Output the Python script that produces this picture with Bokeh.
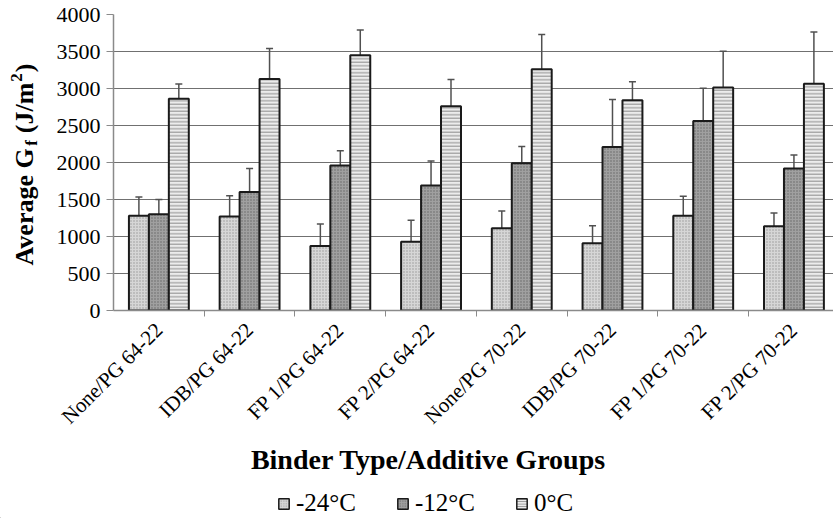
from math import pi
from bokeh.plotting import figure
from bokeh.layouts import row, column
from bokeh.models import (Range1d, FixedTicker, ColumnDataSource, Whisker, Legend,
                          LegendItem, Label, TeeHead)
from bokeh.embed import file_html
from bokeh.resources import INLINE

groups = ["None/PG 64-22", "IDB/PG 64-22", "FP 1/PG 64-22", "FP 2/PG 64-22",
          "None/PG 70-22", "IDB/PG 70-22", "FP 1/PG 70-22", "FP 2/PG 70-22"]
series_names = ["-24°C", "-12°C", "0°C"]
mean_m24 = [1280, 1270, 870, 930, 1110, 910, 1280, 1140]
err_m24 = [255, 280, 300, 290, 235, 235, 265, 178]
mean_m12 = [1300, 1600, 1960, 1690, 1990, 2210, 2560, 1920]
err_m12 = [200, 320, 200, 330, 225, 640, 445, 182]
mean_0 = [2860, 3130, 3450, 2760, 3260, 2840, 3015, 3065]
err_0 = [200, 410, 340, 360, 470, 250, 490, 700]
y_ticks = [0, 500, 1000, 1500, 2000, 2500, 3000, 3500, 4000]
x_title = "Binder Type/Additive Groups"

SERIF = "Liberation Serif"
LEFT_W = 45
TOP_H = 440
FRAME_TOP, FRAME_BOTTOM = 14, 310

# ---------------- main chart ----------------
p = figure(width=833 - LEFT_W, height=TOP_H, output_backend="svg", toolbar_location=None,
           x_range=Range1d(0, 7.936), y_range=Range1d(0, 4000),
           min_border_left=113 - LEFT_W, min_border_right=0, min_border_top=FRAME_TOP,
           min_border_bottom=TOP_H - FRAME_BOTTOM, background_fill_color="white",
           border_fill_color="white")
p.outline_line_color = None
p.xgrid.grid_line_color = None
p.ygrid.grid_line_color = "#707070"
p.ygrid.grid_line_width = 1.2
p.ygrid.ticker = FixedTicker(ticks=y_ticks)

p.yaxis.ticker = FixedTicker(ticks=y_ticks)
p.yaxis.axis_line_color = "#8a8a8a"
p.yaxis.axis_line_width = 1.5
p.yaxis.major_tick_line_color = "#8a8a8a"
p.yaxis.major_tick_out = 7
p.yaxis.major_tick_in = 0
p.yaxis.minor_tick_line_color = None
p.yaxis.major_label_standoff = 6
p.yaxis.major_label_text_font = SERIF
p.yaxis.major_label_text_font_size = "22px"
p.yaxis.major_label_text_color = "black"

centers = [i + 0.5 for i in range(len(groups))]
bounds = [i for i in range(1, len(groups))]
p.xaxis.ticker = FixedTicker(ticks=centers, minor_ticks=bounds)
p.xaxis.major_label_overrides = {c: g for c, g in zip(centers, groups)}
p.xaxis.major_label_orientation = pi / 4
p.xaxis.major_tick_line_color = None
p.xaxis.minor_tick_line_color = "#8a8a8a"
p.xaxis.minor_tick_out = 6
p.xaxis.minor_tick_in = 0
p.xaxis.axis_line_color = "#8a8a8a"
p.xaxis.axis_line_width = 1.5
p.xaxis.major_label_standoff = 10
p.xaxis.major_label_text_font = SERIF
p.xaxis.major_label_text_font_size = "21px"
p.xaxis.major_label_text_color = "black"

offsets = [-0.22, 0.0, 0.22]
means = [mean_m24, mean_m12, mean_0]
errs = [err_m24, err_m12, err_0]
fills = ["#d6d6d6", "#a0a0a0", "#ececec"]
hatches = ["dot", "dot", "horizontal_line"]
hatch_colors = ["#999999", "#666666", "#8c8c8c"]
hatch_scales = [3, 3, 3.5]

for k in range(3):
    xs = [c + offsets[k] for c in centers]
    src = ColumnDataSource(dict(
        x=xs, top=means[k],
        upper=[m + e for m, e in zip(means[k], errs[k])],
        lower=[m - e for m, e in zip(means[k], errs[k])]))
    p.vbar(x="x", top="top", bottom=0, width=0.22, source=src,
           fill_color=fills[k], line_color="#1a1a1a", line_width=2,
           hatch_pattern=hatches[k], hatch_color=hatch_colors[k],
           hatch_scale=hatch_scales[k], hatch_weight=1)
    w = Whisker(source=src, base="x", upper="upper", lower="lower",
                line_color="#505050", line_width=1.5,
                upper_head=TeeHead(size=7, line_color="#505050", line_width=1.5),
                lower_head=TeeHead(size=7, line_color="#505050", line_width=1.5))
    p.add_layout(w)

# ---------------- y-axis title strip (frame aligned with main frame) ----------------
yfig = figure(width=LEFT_W, height=TOP_H, output_backend="svg", toolbar_location=None,
              x_range=Range1d(0, LEFT_W),
              y_range=Range1d(TOP_H - FRAME_BOTTOM, TOP_H - FRAME_TOP),
              x_axis_type=None, y_axis_type=None,
              min_border_left=0, min_border_right=0,
              min_border_top=FRAME_TOP, min_border_bottom=TOP_H - FRAME_BOTTOM)
yfig.outline_line_color = None
yfig.grid.grid_line_color = None

base_x = 24
y0 = TOP_H - 265
fs_main, fs_sub = 26, 17
w_avg = 4.582 * fs_main
w_f = 0.333 * fs_sub
w_jm = 1.944 * fs_main
pieces = [("Average G", fs_main, 0, y0),
          ("f", fs_sub, 7, y0 + w_avg + 0.5),
          ("(J/m", fs_main, 0, y0 + w_avg + w_f + 0.25 * fs_main + 1),
          ("2", fs_sub, -8, y0 + w_avg + w_f + 0.25 * fs_main + w_jm + 2),
          (")", fs_main, 0, y0 + w_avg + w_f + 0.25 * fs_main + w_jm + 0.5 * fs_sub + 3)]
for txt, fs, dx, yy in pieces:
    yfig.add_layout(Label(x=base_x + dx, y=yy, text=txt, angle=pi / 2,
                          text_align="left", text_baseline="middle",
                          text_font=SERIF, text_font_style="bold",
                          text_font_size=f"{fs}px", text_color="black"))

# ---------------- x title + legend strip ----------------
LEG_H = 518 - TOP_H
lfig = figure(width=833, height=LEG_H, output_backend="svg", toolbar_location=None,
              x_range=Range1d(0, 833), y_range=Range1d(0, LEG_H),
              x_axis_type=None, y_axis_type=None,
              min_border_left=0, min_border_right=0, min_border_top=0, min_border_bottom=0)
lfig.outline_line_color = None
lfig.grid.grid_line_color = None
lfig.add_layout(Label(x=428, y=518 - 459, text=x_title, text_align="center",
                      text_baseline="middle", text_font=SERIF, text_font_style="bold",
                      text_font_size="28px", text_color="black"))
dummy = []
for k in range(3):
    # off-screen zero-height bars, only so that the legend can draw its swatches
    dummy.append(lfig.vbar(x=[-100], top=[0], bottom=[0], width=1,
                           fill_color=fills[k], line_color="#1a1a1a", line_width=1.5,
                           hatch_pattern=hatches[k], hatch_color=hatch_colors[k],
                           hatch_scale=2.5, hatch_weight=1))
legend = Legend(items=[LegendItem(label=n, renderers=[r]) for n, r in zip(series_names, dummy)],
                orientation="horizontal", location=(277, 1),
                glyph_width=13, glyph_height=13, label_standoff=6, spacing=40,
                padding=2, margin=0, border_line_color=None,
                background_fill_alpha=0,
                label_text_font=SERIF, label_text_font_size="25px",
                label_text_color="black")
lfig.add_layout(legend, "center")

layout = column(row(yfig, p, spacing=0), lfig, spacing=0)
open("out.html", "w").write(file_html(layout, INLINE))
